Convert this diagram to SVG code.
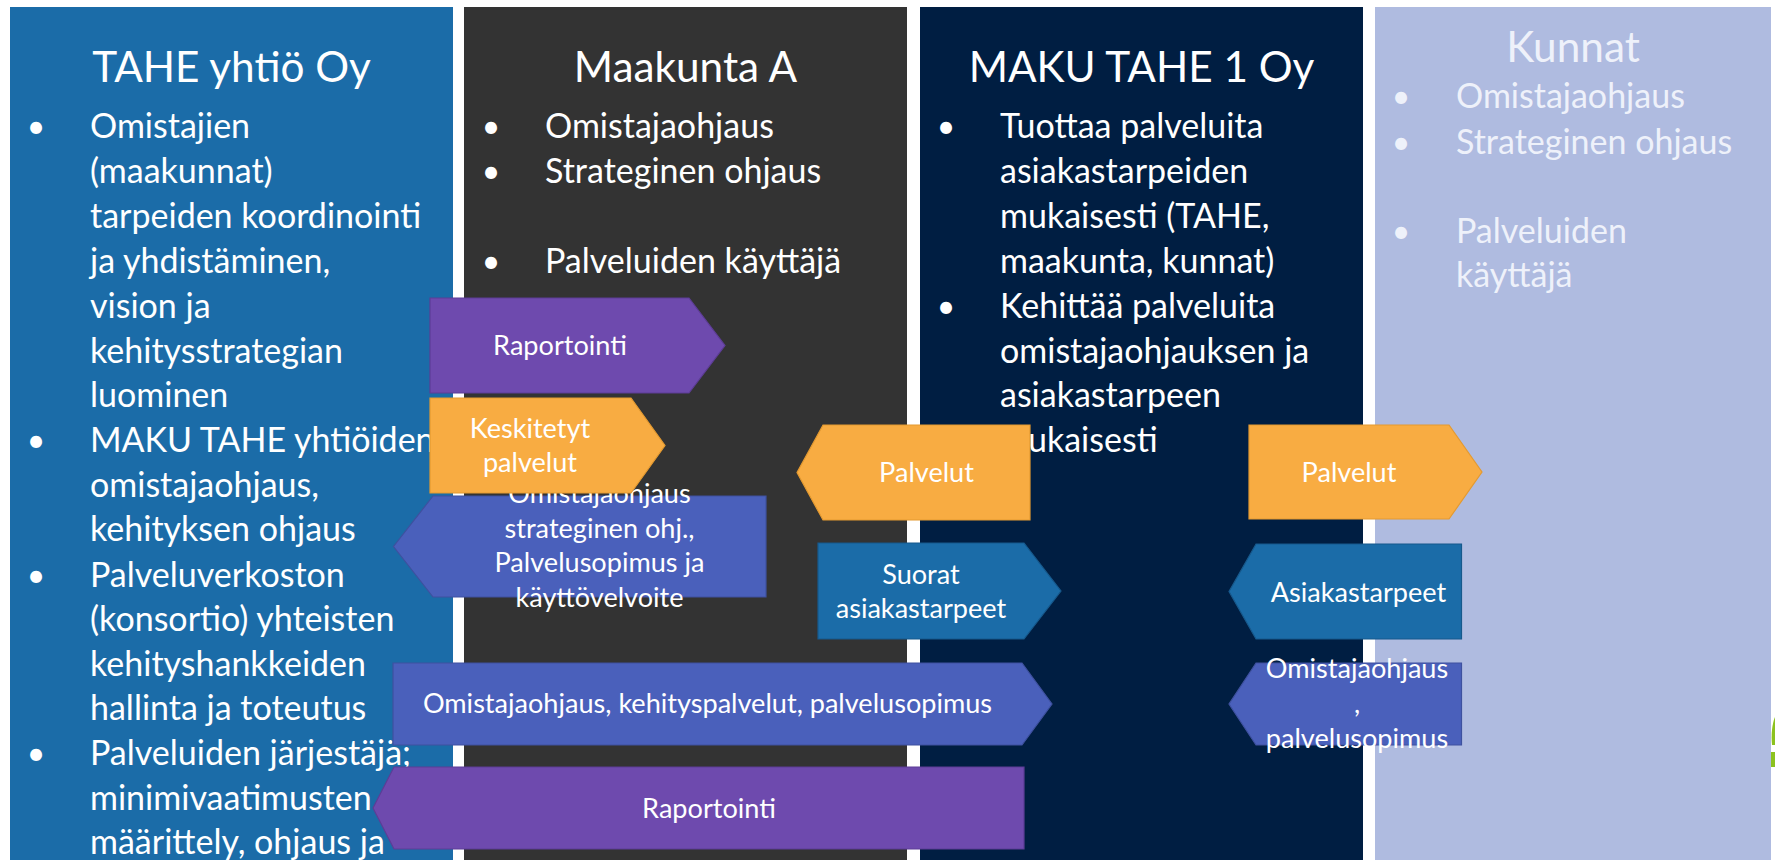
<svg xmlns="http://www.w3.org/2000/svg" width="1775" height="860" viewBox="0 0 1775 860">
<style>
text{font-family:Lato,"Open Sans","Liberation Sans",sans-serif;fill:#ffffff}
.title{font-size:42.3px;text-anchor:middle}
.body{font-size:34px}
.bul{font-size:32px;text-anchor:middle}
.lite{fill:#eef1fa}
.lbl{font-size:27.1px;text-anchor:middle}
.purple{fill:#6e4aae;stroke:#5d3d96;stroke-width:1.2}
.orange{fill:#f8ac42;stroke:#e49a30;stroke-width:1.2}
.indigo{fill:#4a60bb;stroke:#3e519f;stroke-width:1.2}
.blue{fill:#1b6ca8;stroke:#17598c;stroke-width:1.2}
</style>
<rect width="1775" height="860" fill="#ffffff"/>
<g id="col-tahe">
<rect x="10" y="7" width="443" height="853" fill="#1b6ca8"/>
<text class="title" x="231.5" y="82">TAHE yhtiö Oy</text>
<text class="bul" x="36" y="138">•</text>
<text class="bul" x="36" y="452">•</text>
<text class="bul" x="36" y="587">•</text>
<text class="bul" x="36" y="765">•</text>
<text class="body" x="90" y="138">Omistajien</text>
<text class="body" x="90" y="183">(maakunnat)</text>
<text class="body" x="90" y="228">tarpeiden koordinointi</text>
<text class="body" x="90" y="273">ja yhdistäminen,</text>
<text class="body" x="90" y="318">vision ja</text>
<text class="body" x="90" y="363">kehitysstrategian</text>
<text class="body" x="90" y="407">luominen</text>
<text class="body" x="90" y="452">MAKU TAHE yhtiöiden</text>
<text class="body" x="90" y="497">omistajaohjaus,</text>
<text class="body" x="90" y="541">kehityksen ohjaus</text>
<text class="body" x="90" y="587">Palveluverkoston</text>
<text class="body" x="90" y="631">(konsortio) yhteisten</text>
<text class="body" x="90" y="676">kehityshankkeiden</text>
<text class="body" x="90" y="720">hallinta ja toteutus</text>
<text class="body" x="90" y="765">Palveluiden järjestäjä;</text>
<text class="body" x="90" y="810">minimivaatimusten</text>
<text class="body" x="90" y="854">määrittely, ohjaus ja</text>
</g>
<g id="col-maakunta">
<rect x="464" y="7" width="443" height="853" fill="#333333"/>
<text class="title" x="685.5" y="82">Maakunta A</text>
<text class="bul" x="491" y="138">•</text>
<text class="bul" x="491" y="183">•</text>
<text class="bul" x="491" y="273">•</text>
<text class="body" x="545" y="138">Omistajaohjaus</text>
<text class="body" x="545" y="183">Strateginen ohjaus</text>
<text class="body" x="545" y="273">Palveluiden käyttäjä</text>
</g>
<g id="col-maku">
<rect x="920" y="7" width="443" height="853" fill="#001e42"/>
<text class="title" x="1141.5" y="82">MAKU TAHE 1 Oy</text>
<text class="bul" x="946" y="138">•</text>
<text class="bul" x="946" y="318">•</text>
<text class="body" x="1000" y="138">Tuottaa palveluita</text>
<text class="body" x="1000" y="183">asiakastarpeiden</text>
<text class="body" x="1000" y="228">mukaisesti (TAHE,</text>
<text class="body" x="1000" y="273">maakunta, kunnat)</text>
<text class="body" x="1000" y="318">Kehittää palveluita</text>
<text class="body" x="1000" y="363">omistajaohjauksen ja</text>
<text class="body" x="1000" y="407">asiakastarpeen</text>
<text class="body" x="1000" y="452">mukaisesti</text>
</g>
<g id="col-kunnat">
<rect x="1375" y="7" width="396" height="853" fill="#afbbe0"/>
<text class="title lite" x="1573" y="62">Kunnat</text>
<text class="bul lite" x="1401" y="108">•</text>
<text class="bul lite" x="1401" y="154">•</text>
<text class="bul lite" x="1401" y="243">•</text>
<text class="body lite" x="1456" y="108">Omistajaohjaus</text>
<text class="body lite" x="1456" y="154">Strateginen ohjaus</text>
<text class="body lite" x="1456" y="243">Palveluiden</text>
<text class="body lite" x="1456" y="287">käyttäjä</text>
</g>
<g id="connectors">
<g id="arrow-raportointi-top">
<polygon class="purple" points="430,298 689,298 725,345.5 689,393 430,393"/>
<text class="lbl" x="560" y="355">Raportointi</text>
</g>
<g id="arrow-omistajaohjaus-left">
<polygon class="indigo" points="766,496 433,496 393.5,546.5 433,597 766,597"/>
<text class="lbl" x="599.5" y="503">Omistajaohjaus</text>
<text class="lbl" x="599.5" y="537.5">strateginen ohj.,</text>
<text class="lbl" x="599.5" y="572">Palvelusopimus ja</text>
<text class="lbl" x="599.5" y="606.5">käyttövelvoite</text>
</g>
<g id="arrow-keskitetyt">
<polygon class="orange" points="430,398 631,398 665,445.5 631,493 430,493"/>
<text class="lbl" x="530" y="438">Keskitetyt</text>
<text class="lbl" x="530" y="472">palvelut</text>
</g>
<g id="arrow-palvelut-mid">
<polygon class="orange" points="1030,425 823,425 797,472.5 823,520 1030,520"/>
<text class="lbl" x="926.5" y="482">Palvelut</text>
</g>
<g id="arrow-suorat">
<polygon class="blue" points="818,543 1024,543 1061,591 1024,639 818,639"/>
<text class="lbl" x="921" y="584">Suorat</text>
<text class="lbl" x="921" y="618">asiakastarpeet</text>
</g>
<g id="arrow-omistajaohjaus-big">
<polygon class="indigo" points="393,663 1022,663 1052,704 1022,745 393,745"/>
<text class="lbl" x="707.5" y="713">Omistajaohjaus, kehityspalvelut, palvelusopimus</text>
</g>
<g id="arrow-raportointi-bottom">
<polygon class="purple" points="1024,767 394,767 373,808 394,849 1024,849"/>
<text class="lbl" x="709" y="818">Raportointi</text>
</g>
<g id="arrow-palvelut-right">
<polygon class="orange" points="1249,425 1449,425 1482,472 1449,519 1249,519"/>
<text class="lbl" x="1349" y="482">Palvelut</text>
</g>
<g id="arrow-asiakastarpeet">
<polygon class="blue" points="1461.5,544 1256,544 1229,591.5 1256,639 1461.5,639"/>
<text class="lbl" x="1358.5" y="602">Asiakastarpeet</text>
</g>
<g id="arrow-omistajaohjaus-right">
<polygon class="indigo" points="1461.5,663 1256,663 1229,704 1256,745 1461.5,745"/>
<text class="lbl" x="1357" y="678">Omistajaohjaus</text>
<text class="lbl" x="1357" y="713">,</text>
<text class="lbl" x="1357" y="748">palvelusopimus</text>
</g>
</g>
<g id="logo-fragment">
<path d="M1775,717 C1772,724 1771,735 1772,745 L1775,745 Z" fill="#8cc21f"/>
<path d="M1771,752 L1775,752 L1775,767 L1771,767 Z" fill="#8cc21f"/>
</g>
</svg>
